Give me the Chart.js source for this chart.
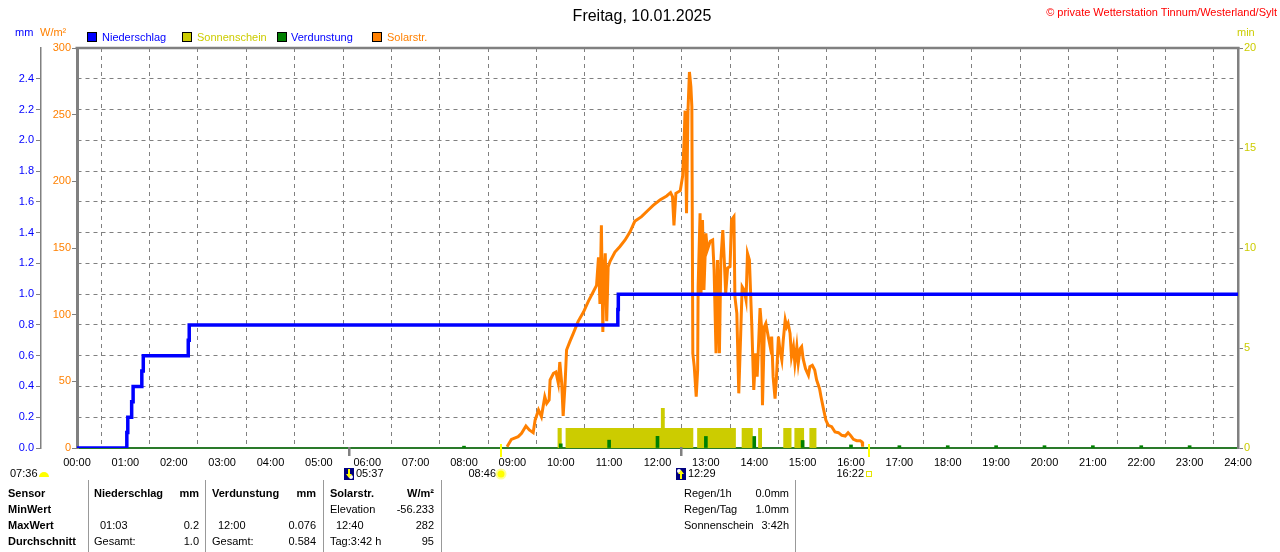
<!DOCTYPE html>
<html>
<head>
<meta charset="utf-8">
<title>Freitag, 10.01.2025</title>
<script src="https://cdn.jsdelivr.net/npm/chart.js"></script>
<style>
  body { margin: 0; background: #fff; font-family: "Liberation Sans", Arial, sans-serif; font-size: 11px; }
  #wrap { position: relative; width: 1280px; height: 552px; overflow: hidden; }
  #chart { position: absolute; left: 0; top: 0; }
  .t { position: absolute; line-height: 13px; white-space: nowrap; }
  .b { font-weight: bold; }
  .box { position: absolute; top: 32px; width: 8px; height: 8px; border: 1px solid #000; }
  .sep { position: absolute; top: 480px; width: 1px; height: 72px; background: #999; }
</style>
</head>
<body>
<div id="wrap">
  <canvas id="chart" width="1280" height="552" style="width:1280px;height:552px"></canvas>

  <div class="t" style="left:0;width:1284px;text-align:center;top:6px;font-size:16px;line-height:20px">Freitag, 10.01.2025</div>
  <div class="t" style="right:3px;top:6px;color:#f00;font-size:11px">© private Wetterstation Tinnum/Westerland/Sylt</div>

  <div class="t" style="left:15px;top:26px;color:#00f">mm</div>
  <div class="t" style="left:40px;top:26px;color:#ff8000">W/m²</div>
  <div class="t" style="left:1237px;top:26px;color:#cccc00">min</div>

  <div class="box" style="left:87px;background:#0000ff"></div>
  <div class="t" style="left:102px;top:31px;color:#00f">Niederschlag</div>
  <div class="box" style="left:182px;background:#cccc00"></div>
  <div class="t" style="left:197px;top:31px;color:#cccc00">Sonnenschein</div>
  <div class="box" style="left:277px;background:#008000"></div>
  <div class="t" style="left:291px;top:31px;color:#00f">Verdunstung</div>
  <div class="box" style="left:372px;background:#ff8000"></div>
  <div class="t" style="left:387px;top:31px;color:#ff8000">Solarstr.</div>

  <div class="sep" style="left:88px"></div>
  <div class="sep" style="left:205px"></div>
  <div class="sep" style="left:323px"></div>
  <div class="sep" style="left:441px"></div>
  <div class="sep" style="left:795px"></div>

  <div class="t b" style="left:8px;top:487px">Sensor</div>
  <div class="t b" style="left:8px;top:503px">MinWert</div>
  <div class="t b" style="left:8px;top:519px">MaxWert</div>
  <div class="t b" style="left:8px;top:535px">Durchschnitt</div>

  <div class="t b" style="left:94px;top:487px">Niederschlag</div>
  <div class="t b" style="right:1081px;top:487px">mm</div>
  <div class="t" style="left:100px;top:519px">01:03</div>
  <div class="t" style="right:1081px;top:519px">0.2</div>
  <div class="t" style="left:94px;top:535px">Gesamt:</div>
  <div class="t" style="right:1081px;top:535px">1.0</div>

  <div class="t b" style="left:212px;top:487px">Verdunstung</div>
  <div class="t b" style="right:964px;top:487px">mm</div>
  <div class="t" style="left:218px;top:519px">12:00</div>
  <div class="t" style="right:964px;top:519px">0.076</div>
  <div class="t" style="left:212px;top:535px">Gesamt:</div>
  <div class="t" style="right:964px;top:535px">0.584</div>

  <div class="t b" style="left:330px;top:487px">Solarstr.</div>
  <div class="t b" style="right:846px;top:487px">W/m²</div>
  <div class="t" style="left:330px;top:503px">Elevation</div>
  <div class="t" style="right:846px;top:503px">-56.233</div>
  <div class="t" style="left:336px;top:519px">12:40</div>
  <div class="t" style="right:846px;top:519px">282</div>
  <div class="t" style="left:330px;top:535px">Tag:3:42 h</div>
  <div class="t" style="right:846px;top:535px">95</div>

  <div class="t" style="left:684px;top:487px">Regen/1h</div>
  <div class="t" style="right:491px;top:487px">0.0mm</div>
  <div class="t" style="left:684px;top:503px">Regen/Tag</div>
  <div class="t" style="right:491px;top:503px">1.0mm</div>
  <div class="t" style="left:684px;top:519px">Sonnenschein</div>
  <div class="t" style="right:491px;top:519px">3:42h</div>
</div>

<script>
// Niederschlag (cumulative mm), value valid from the given hour on
const rainHour = [0, 1.03, 1.05, 1.13, 1.16, 1.34, 1.37, 2.30, 2.32, 11.18, 11.19, 24];
const rainMm = [0, 0.1, 0.2, 0.3, 0.4, 0.5, 0.6, 0.7, 0.8, 0.9, 1.0, 1.0];

// Verdunstung per hour (mm)
const evapHour = [8, 10, 11, 12, 13, 14, 15, 16, 17, 18, 19, 20, 21, 22, 23];
const evapMm = [0.012, 0.027, 0.051, 0.076, 0.075, 0.075, 0.049, 0.02, 0.015, 0.015, 0.015, 0.015, 0.015, 0.015, 0.015];

// Sonnenschein (min), value valid from the given hour on
const sunHour = [9.93, 10.02, 10.10, 12.07, 12.15, 12.74, 12.82, 13.62, 13.74, 13.97, 14.08, 14.16, 14.60, 14.77, 14.83, 15.03, 15.14, 15.29];
const sunMin = [1, 0, 1, 2, 1, 0, 1, 0, 1, 0, 1, 0, 1, 0, 1, 0, 1, 0];

// Solarstrahlung (W/m²)
const solarHour = [8.89, 8.98, 9.12, 9.19, 9.28, 9.35, 9.43, 9.47, 9.54, 9.60, 9.67, 9.71, 9.76, 9.78, 9.85, 9.90, 9.95, 9.98,
  10.02, 10.05, 10.09, 10.12, 10.19, 10.26, 10.36, 10.47, 10.57, 10.67, 10.74, 10.78, 10.81, 10.84, 10.87, 10.89, 10.92, 10.95, 10.98,
  11.02, 11.12, 11.22, 11.33, 11.43, 11.53, 11.67, 11.81, 11.91,
  12.05, 12.19, 12.27, 12.31, 12.34, 12.38, 12.47, 12.52, 12.55, 12.57, 12.60, 12.63, 12.66, 12.69, 12.71, 12.73, 12.76, 12.80,
  12.83, 12.84, 12.88, 12.90, 12.93, 12.96,
  13.00, 13.03, 13.09, 13.14, 13.17, 13.21, 13.24, 13.28, 13.31, 13.35, 13.38, 13.41, 13.45, 13.50, 13.53, 13.58, 13.60, 13.64,
  13.68, 13.72, 13.75, 13.79, 13.83, 13.86, 13.90, 13.93, 13.95, 13.99,
  14.03, 14.06, 14.09, 14.12, 14.15, 14.17, 14.21, 14.24, 14.29, 14.33, 14.36, 14.39, 14.43, 14.46, 14.50, 14.53, 14.57, 14.60,
  14.64, 14.67, 14.70, 14.74, 14.77, 14.81, 14.84, 14.88, 14.91, 14.95, 14.98,
  15.01, 15.06, 15.12, 15.15, 15.20, 15.25, 15.29, 15.35, 15.38, 15.43, 15.48, 15.53, 15.60, 15.67, 15.74, 15.81, 15.88, 15.94, 15.99,
  16.05, 16.12, 16.19, 16.23, 16.24];
const solarWm2 = [1, 6.5, 8.5, 11, 16.5, 13.5, 11.5, 21, 28.5, 23.5, 38.5, 33.5, 36, 51, 56, 57, 48.5, 64.5,
  48.5, 24, 48.5, 73.5, 80, 86, 95, 102, 110, 117, 122, 143, 108, 167, 87, 126, 146, 95, 136,
  140, 147, 151, 156, 162, 170, 173.5, 178.5, 182,
  186, 189, 191.5, 188.5, 167, 191, 193, 204, 231, 253, 176, 253, 282, 271, 256, 71, 61, 38.5,
  58.5, 121, 176, 116, 171, 118.5,
  161, 148.5, 155, 156, 133.5, 71, 141, 71, 141, 163.5, 141, 116, 135, 136, 171, 173.5, 113.5, 101,
  41, 86, 121, 118.5, 111, 146, 141, 111, 91, 43.5,
  71, 53.5, 78.5, 105, 91, 32, 91, 93.5, 83.5, 76, 83.5, 53.5, 37, 53.5, 83.5, 73.5, 66, 81,
  96, 91, 93.5, 86, 68.5, 76, 63.5, 76, 63.5, 74.5, 76,
  67, 59.5, 54.5, 61, 62, 58.5, 51, 44.5, 38.5, 29.5, 21, 17, 16, 12, 11.5, 9.5, 9, 11.5, 9.5,
  6.5, 5.5, 5.5, 4.5, 1];

// Sun / moon events below the time axis
const eventHour = [5.617, 8.767, 12.483, 16.367];
const eventLabel = ['05:37', '08:46', '12:29', '16:22'];
const eventKind = ['moonset', 'sunrise', 'moonrise', 'sunset'];
const dayLength = '07:36';

const toPoints = (xs, ys) => xs.map((x, i) => ({ x, y: ys[i] }));
const pad = (h) => String(h).padStart(2, '0') + ':00';
const FONT = '"Liberation Sans", Arial, sans-serif';

Chart.defaults.font.family = FONT;
Chart.defaults.font.size = 11;

const extras = {
  id: 'extras',
  afterDraw(chart) {
    const { ctx, chartArea: a, scales: { x } } = chart;
    ctx.save();
    // top frame line
    ctx.strokeStyle = '#808080';
    ctx.lineWidth = 2.5;
    ctx.beginPath();
    ctx.moveTo(a.left - 1.5, a.top);
    ctx.lineTo(a.right + 1.5, a.top);
    ctx.stroke();

    ctx.font = '11px ' + FONT;
    ctx.textBaseline = 'middle';
    const ty = a.bottom + 26;

    eventHour.forEach((h, i) => {
      const px = Math.round(x.getPixelForValue(h));
      const kind = eventKind[i];
      const sun = kind.startsWith('sun');
      ctx.fillStyle = sun ? '#ffff00' : '#808080';
      if (sun) ctx.fillRect(px - 1, a.bottom - 4, 2, 13);
      else ctx.fillRect(px - 1, a.bottom - 1, 2.5, 9);

      ctx.fillStyle = '#000';
      if (sun) {
        ctx.textAlign = 'right';
        ctx.fillText(eventLabel[i], px - 5, ty);
        if (kind === 'sunrise') {
          ctx.fillStyle = '#ffff99';
          ctx.beginPath(); ctx.arc(px, ty, 5.5, 0, Math.PI * 2); ctx.fill();
          ctx.fillStyle = '#ffff00';
          ctx.beginPath(); ctx.arc(px, ty, 3.5, 0, Math.PI * 2); ctx.fill();
        } else {
          ctx.strokeStyle = '#e6e600';
          ctx.lineWidth = 1;
          ctx.strokeRect(px - 2.5, ty - 2.5, 5, 5);
        }
      } else {
        ctx.textAlign = 'left';
        ctx.fillText(eventLabel[i], px + 7, ty);
        ctx.fillStyle = '#000080';
        ctx.fillRect(px - 5, ty - 6, 10, 12);
        ctx.fillStyle = '#fff';
        ctx.beginPath();
        if (kind === 'moonset') ctx.arc(px + 2, ty + 3, 2, 0, Math.PI * 2);
        else ctx.arc(px - 2, ty - 3, 2, 0, Math.PI * 2);
        ctx.fill();
        ctx.fillStyle = '#ffff00';
        ctx.beginPath();
        if (kind === 'moonset') {
          ctx.fillRect(px - 1, ty - 5, 2, 6);
          ctx.moveTo(px - 3, ty); ctx.lineTo(px + 3, ty); ctx.lineTo(px, ty + 4);
        } else {
          ctx.fillRect(px - 1, ty - 1, 2, 6);
          ctx.moveTo(px - 3, ty); ctx.lineTo(px + 3, ty); ctx.lineTo(px, ty - 4);
        }
        ctx.fill();
      }
    });

    // day length with half sun
    ctx.fillStyle = '#000';
    ctx.textAlign = 'left';
    ctx.fillText(dayLength, 10, ty);
    ctx.fillStyle = '#ffff00';
    ctx.beginPath();
    ctx.arc(44, ty + 3, 5, Math.PI, 0);
    ctx.closePath();
    ctx.fill();
    ctx.restore();
  }
};

new Chart(document.getElementById('chart'), {
  type: 'line',
  data: {
    datasets: [
      {
        label: 'Niederschlag',
        data: toPoints(rainHour, rainMm),
        yAxisID: 'yMm',
        borderColor: '#0000ff',
        borderWidth: 3.5,
        stepped: 'before',
        pointRadius: 0,
        order: 0
      },
      {
        type: 'bar',
        label: 'Verdunstung',
        data: toPoints(evapHour, evapMm),
        yAxisID: 'yMm',
        backgroundColor: '#008000',
        barThickness: 3,
        order: 1
      },
      {
        label: 'Solarstr.',
        data: toPoints(solarHour, solarWm2),
        yAxisID: 'yW',
        borderColor: '#ff8000',
        borderWidth: 3,
        pointRadius: 0,
        tension: 0,
        order: 2
      },
      {
        label: 'Sonnenschein',
        data: toPoints(sunHour, sunMin),
        yAxisID: 'yMin',
        borderWidth: 0,
        borderColor: 'rgba(0,0,0,0)',
        backgroundColor: '#cccc00',
        fill: 'origin',
        stepped: 'before',
        pointRadius: 0,
        order: 3
      }
    ]
  },
  options: {
    responsive: false,
    animation: false,
    events: [],
    layout: { padding: { top: 48, left: 0, right: 0, bottom: 0 } },
    plugins: { legend: { display: false }, tooltip: { enabled: false } },
    scales: {
      x: {
        type: 'linear',
        min: 0,
        max: 24,
        offset: false,
        ticks: { stepSize: 1, autoSkip: false, maxRotation: 0, color: '#000', padding: 8, callback: (v) => pad(v) },
        grid: { color: '#808080', lineWidth: 1, drawTicks: false },
        border: { color: '#2a7a2a', width: 2, dash: [4, 4] },
        afterFit: (s) => { s.height = 104; }
      },
      yMm: {
        position: 'left',
        weight: 1,
        min: 0,
        max: 2.6,
        ticks: { stepSize: 0.2, color: '#0000ff', padding: 2, callback: (v) => v.toFixed(1) },
        afterBuildTicks: (s) => { s.ticks = s.ticks.filter((t) => t.value < 2.5); },
        grid: {
          color: (c) => (c.tick && c.tick.value === 0 ? 'rgba(0,0,0,0)' : '#808080'),
          tickColor: '#808080',
          tickLength: 5,
          lineWidth: 1
        },
        border: { color: '#808080', width: 1.5, dash: [4, 4] },
        afterFit: (s) => { s.width = 41; }
      },
      yW: {
        position: 'left',
        weight: 0,
        min: 0,
        max: 300,
        ticks: { stepSize: 50, color: '#ff8000', padding: 1 },
        grid: { drawOnChartArea: false, tickColor: '#808080', tickLength: 5 },
        border: { color: '#808080', width: 3 },
        afterFit: (s) => { s.width = 36; }
      },
      yMin: {
        position: 'right',
        min: 0,
        max: 20,
        ticks: { stepSize: 5, color: '#cccc00', padding: 1 },
        grid: { drawOnChartArea: false, tickColor: '#808080', tickLength: 5 },
        border: { color: '#808080', width: 2.5 },
        afterFit: (s) => { s.width = 42; }
      }
    }
  },
  plugins: [extras]
});
</script>
</body>
</html>
